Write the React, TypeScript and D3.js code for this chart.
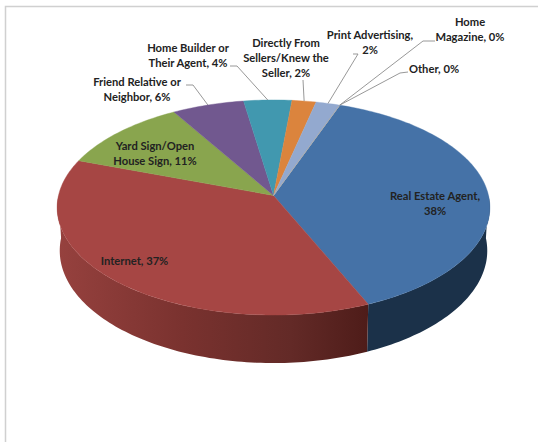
import React from "react";
import * as d3 from "d3";

// Share of home buyers by the source that first led them to their home.
const sources = [
  "Real Estate Agent",
  "Internet",
  "Yard Sign/Open House Sign",
  "Friend Relative or Neighbor",
  "Home Builder or Their Agent",
  "Directly From Sellers/Knew the Seller",
  "Print Advertising",
  "Home Magazine",
  "Other",
];
const shares = [38, 37, 11, 6, 4, 2, 2, 0, 0];
const topColors = ["#4572a7", "#a64644", "#89a54e", "#71588f", "#4198af", "#db843d", "#93a9cf", "#a9a9a9", "#b0b0b0"];
const sideColors = ["#1b3149", "#7c3431", "#5f7336", "#4d3c62", "#2c6a7a", "#97592a", "#66758f", "#777777", "#777777"];

const labelLines = [
  ["Real Estate Agent,", "38%"],
  ["Internet, 37%"],
  ["Yard Sign/Open", "House Sign, 11%"],
  ["Friend Relative or", "Neighbor, 6%"],
  ["Home Builder or", "Their Agent, 4%"],
  ["Directly From", "Sellers/Knew the", "Seller, 2%"],
  ["Print Advertising,", "2%"],
  ["Home", "Magazine, 0%"],
  ["Other, 0%"],
];
const labelCenters = [
  [435, 196], [134.5, 261], [155, 146], [137, 82], [188, 48],
  [286, 43], [370, 35], [470, 22], [434, 69],
];
// Label-side leader points, from the text end toward the elbow; empty means no leader.
const leaderPaths: number[][][] = [
  [], [], [],
  [[186, 85], [193, 85]],
  [[230, 66], [237, 66]],
  [[303, 80]],
  [[353, 54], [358, 54]],
  [[435, 41], [423, 41]],
  [[408, 72], [400, 73]],
];

const W = 538;
const H = 442;
const cx = 273.5;
const vanishY = 195.5;
const radiusX = 215;
const radiusY = 106.2;
const persp = 0.1116;
const depth = 48;
const firstAngle = (19.9 * Math.PI) / 180;

// Perspective projection of a point on the pie's rim at clock angle a.
function rim(a: number, r = 1, drop = 0): [number, number] {
  const w = 1 + persp * Math.cos(a) * r;
  const fall = (drop * (1 - persp)) / w;
  const shrink = 1 - (drop / depth) * 0.012;
  return [
    cx + (radiusX * r * Math.sin(a) * shrink) / w,
    vanishY - (radiusY * r * Math.cos(a)) / w + fall,
  ];
}

function rimSamples(a0: number, a1: number, drop = 0): [number, number][] {
  const n = Math.max(2, Math.ceil(Math.abs(a1 - a0) / 0.02));
  return d3.range(n + 1).map((i) => rim(a0 + ((a1 - a0) * i) / n, 1, drop));
}

const outline = d3.line<[number, number]>();

export default function App() {
  const arcs = d3
    .pie<number>()
    .sort(null)
    .startAngle(firstAngle)
    .endAngle(firstAngle + 2 * Math.PI)(shares);

  // Only the part of the wall facing the viewer is drawn: clock angles 90 to 270 degrees.
  const frontLo = Math.PI / 2;
  const frontHi = (3 * Math.PI) / 2;
  const walls = arcs.flatMap((d, i) => {
    const a0 = Math.max(d.startAngle, frontLo);
    const a1 = Math.min(d.endAngle, frontHi);
    if (a1 <= a0) return [];
    const pts = [...rimSamples(a0, a1), ...rimSamples(a1, a0, depth)];
    return [{ i, path: outline(pts)! + "Z" }];
  });

  const apex: [number, number] = rim(0, 0);
  const tops = arcs.map((d, i) => ({
    i,
    path: outline([apex, ...rimSamples(d.startAngle, d.endAngle)])! + "Z",
  }));

  const redWallEnd = rim(arcs[1].startAngle)[0];

  return (
    <svg
      width={W}
      height={H}
      viewBox={`0 0 ${W} ${H}`}
      style={{ position: "absolute", left: 0, top: 0, background: "#fff" }}
      fontFamily="Lato, sans-serif"
    >
      <defs>
        <linearGradient id="redWall" gradientUnits="userSpaceOnUse" x1={cx - radiusX} x2={redWallEnd} y1={0} y2={0}>
          <stop offset="0" stopColor="#96413e" />
          <stop offset="0.4" stopColor="#7a322f" />
          <stop offset="0.75" stopColor="#632a27" />
          <stop offset="1" stopColor="#4e1c19" />
        </linearGradient>
      </defs>
      <rect x={5.5} y={6.5} width={W + 20} height={H + 20} fill="none" stroke="#d0d0d0" strokeWidth={1.5} />
      {walls.map((w) => (
        <path key={w.i} d={w.path} fill={w.i === 1 ? "url(#redWall)" : sideColors[w.i]} />
      ))}
      {tops.map((t) => (
        <path key={t.i} d={t.path} fill={topColors[t.i]} stroke={topColors[t.i]} strokeWidth={0.4} />
      ))}
      {arcs.map((d, i) => {
        const elbow = leaderPaths[i];
        if (!elbow.length) return null;
        const anchor = rim((d.startAngle + d.endAngle) / 2);
        return (
          <path
            key={sources[i]}
            d={outline([...(elbow as [number, number][]), anchor])!}
            fill="none"
            stroke="#8c8c8c"
            strokeWidth={0.9}
          />
        );
      })}
      {labelLines.map((lines, i) => (
        <text
          key={sources[i]}
          textAnchor="middle"
          fontSize={11.2}
          fontWeight={700}
          fill="#222222"
        >
          {lines.map((s, j) => (
            <tspan key={j} x={labelCenters[i][0]} y={labelCenters[i][1] + 3.8 + j * 15}>
              {s}
            </tspan>
          ))}
        </text>
      ))}
    </svg>
  );
}
